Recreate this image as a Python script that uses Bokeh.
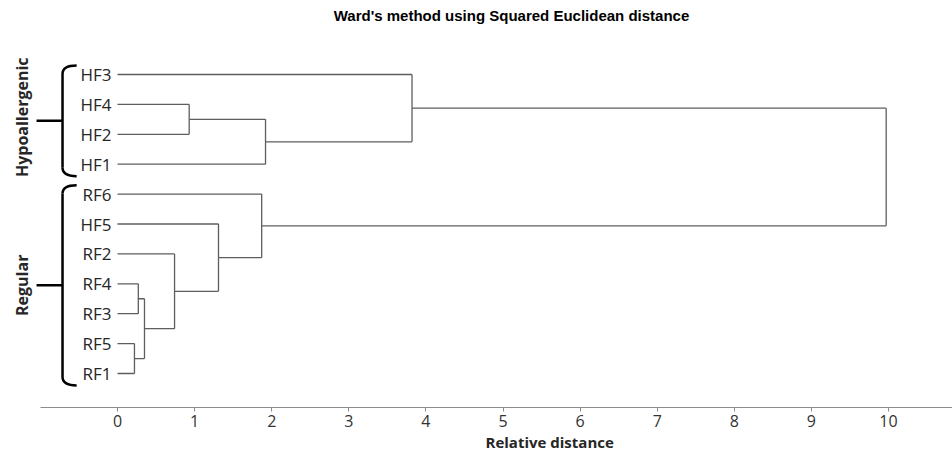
import numpy as np
from bokeh.plotting import figure
from bokeh.models import Range1d, Label, FixedTicker, Title
from bokeh.embed import file_html
from bokeh.resources import INLINE
from bokeh.core.properties import value

# ---------------- data ----------------
title_text = "Ward's method using Squared Euclidean distance"
x_label = "Relative distance"
leaves = ["HF3", "HF4", "HF2", "HF1", "RF6", "HF5", "RF2", "RF4", "RF3", "RF5", "RF1"]
# merge k creates cluster "C{k+1}"
merge_a = ["RF5", "RF4", "C2", "RF2", "HF4", "HF5", "RF6", "C5", "HF3", "C9"]
merge_b = ["RF1", "RF3", "C1", "C3", "HF2", "C4", "C6", "HF1", "C8", "C7"]
merge_h = [0.22, 0.27, 0.35, 0.74, 0.93, 1.31, 1.87, 1.92, 3.82, 9.97]
groups = ["Hypoallergenic", "Regular"]
group_first = ["HF3", "RF6"]
group_last = ["HF1", "RF1"]
ticks = [0, 1, 2, 3, 4, 5, 6, 7, 8, 9, 10]

# ---------------- layout ----------------
W, H = 952, 452
PXU = 77.1          # pixels per distance unit
PYU = 29.9          # pixels per leaf row
X0PX, Y0PX = 117, 74
BOTTOM = 45
frame_h = H - BOTTOM
x_start = -X0PX / PXU
x_end = x_start + W / PXU
y_top = -Y0PX / PYU
y_bot = y_top + frame_h / PYU

p = figure(width=W, height=H, output_backend="svg", toolbar_location=None,
           x_range=Range1d(x_start, x_end), y_range=Range1d(y_bot, y_top),
           min_border_left=0, min_border_right=0, min_border_top=0, min_border_bottom=BOTTOM,
           y_axis_location=None)
p.outline_line_color = None
p.xgrid.visible = False
p.ygrid.visible = False

FONT = "Open Sans"

# ---------------- dendrogram ----------------
pos = {name: (0.0, float(i)) for i, name in enumerate(leaves)}
hx0, hx1, hy = [], [], []
vx, vy0, vy1 = [], [], []
for k, (a, b, h) in enumerate(zip(merge_a, merge_b, merge_h)):
    xa, ya = pos[a]
    xb, yb = pos[b]
    hx0 += [xa, xb]; hx1 += [h, h]; hy += [ya, yb]
    vx.append(h); vy0.append(ya); vy1.append(yb)
    pos["C%d" % (k + 1)] = (h, (ya + yb) / 2.0)

LC = "#5e5e5e"
p.segment(x0=hx0, y0=hy, x1=hx1, y1=hy, line_color=LC, line_width=1.3)
p.segment(x0=vx, y0=vy0, x1=vx, y1=vy1, line_color=LC, line_width=1.3)

# leaf labels
p.text(x=[0.0] * len(leaves), y=list(range(len(leaves))), text=leaves,
       x_offset=-6, text_align="right", text_baseline="middle",
       text_font=value(FONT), text_font_size="17px", text_color="#262626")

# ---------------- braces ----------------
idx = {n: i for i, n in enumerate(leaves)}
x_v, x_hook, x_tip, x_lab = -0.713, -0.53, -1.05, -1.245
tops = [idx[f] - 0.3 for f in group_first]
bots = [idx[l] + 0.4 for l in group_last]
mids = [(t + b) / 2 for t, b in zip(tops, bots)]
r = 0.28
for t, b, m in zip(tops, bots, mids):
    p.quadratic(x0=x_hook, y0=t, x1=x_v, y1=t + r, cx=x_v, cy=t, line_color="black", line_width=2.5)
    p.quadratic(x0=x_v, y0=b - r, x1=x_hook, y1=b, cx=x_v, cy=b, line_color="black", line_width=2.5)
    p.segment(x0=x_v, y0=t + r, x1=x_v, y1=b - r, line_color="black", line_width=2.5)
    p.segment(x0=x_tip, y0=m, x1=x_v, y1=m, line_color="black", line_width=2.5)

p.text(x=[x_lab] * len(groups), y=[mids[0] - 0.12, mids[1]], text=groups, angle=np.pi / 2,
       text_align="center", text_baseline="middle", text_font=value(FONT),
       text_font_size="16px", text_font_style="bold", text_color="#262626")

# ---------------- axis ----------------
ax = p.xaxis[0]
ax.ticker = FixedTicker(ticks=ticks)
ax.bounds = (-0.999, x_end)
ax.axis_line_color = "#8c8c8c"
ax.axis_line_width = 1.2
ax.major_tick_line_color = "#8c8c8c"
ax.major_tick_out = 4
ax.major_tick_in = 0
ax.minor_tick_line_color = None
ax.major_label_standoff = 3
ax.major_label_text_font = FONT
ax.major_label_text_font_size = "16px"
ax.major_label_text_color = "#333333"

# axis label, placed as a title below the axis so it can sit off-centre like the reference
p.add_layout(Title(text=x_label, align="left", offset=485, standoff=0,
                   text_font=FONT, text_font_size="15px", text_font_style="bold",
                   text_color="#262626"), "below")

# chart title
p.add_layout(Label(x=(511 - X0PX) / PXU, y=(15 - Y0PX) / PYU, text=title_text,
                   text_align="center", text_baseline="middle",
                   text_font="Liberation Sans", text_font_size="15px", text_font_style="bold",
                   text_color="black"))

open("out.html", "w").write(file_html(p, INLINE))
